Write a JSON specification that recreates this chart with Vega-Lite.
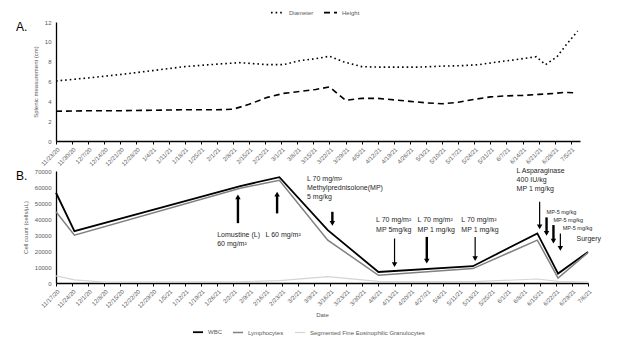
{
  "$schema": "https://vega.github.io/schema/vega-lite/v6.json",
  "padding": {"left": 16, "top": 5, "right": 5, "bottom": 5},
  "spacing": 0,
  "config": {
    "font": "Liberation Sans",
    "view": {"stroke": null},
    "axis": {"grid": false, "labelOverlap": false, "domainColor": "#000000", "domainWidth": 1.3, "tickColor": "#000000", "labelColor": "#595959", "labelFontSize": 6, "titleColor": "#595959", "titleFontSize": 6, "titleFontWeight": "normal"},
    "axisY": {"ticks": false, "labelPadding": 5, "titlePadding": 6},
    "axisX": {"tickSize": 3, "labelAngle": -45, "labelPadding": 2},
    "legend": {"labelFontSize": 6, "labelColor": "#595959", "symbolType": "stroke", "layout": {"bottom": {"anchor": "middle"}}},
    "title": {"fontSize": 12, "fontWeight": "normal", "anchor": "start", "frame": "group", "color": "#000000"}
  },
  "datasets": {
    "spleen": [
      {"date": "2020-11-23", "series": "Diameter", "cm": 6.05},
      {"date": "2020-12-07", "series": "Diameter", "cm": 6.36},
      {"date": "2020-12-21", "series": "Diameter", "cm": 6.7},
      {"date": "2021-01-04", "series": "Diameter", "cm": 7.1},
      {"date": "2021-01-18", "series": "Diameter", "cm": 7.5},
      {"date": "2021-02-01", "series": "Diameter", "cm": 7.75},
      {"date": "2021-02-11", "series": "Diameter", "cm": 7.9},
      {"date": "2021-02-23", "series": "Diameter", "cm": 7.7},
      {"date": "2021-03-02", "series": "Diameter", "cm": 7.7},
      {"date": "2021-03-09", "series": "Diameter", "cm": 8.1},
      {"date": "2021-03-16", "series": "Diameter", "cm": 8.3},
      {"date": "2021-03-22", "series": "Diameter", "cm": 8.55},
      {"date": "2021-03-28", "series": "Diameter", "cm": 8.0},
      {"date": "2021-04-05", "series": "Diameter", "cm": 7.5},
      {"date": "2021-04-12", "series": "Diameter", "cm": 7.45},
      {"date": "2021-04-22", "series": "Diameter", "cm": 7.45},
      {"date": "2021-04-30", "series": "Diameter", "cm": 7.45},
      {"date": "2021-05-10", "series": "Diameter", "cm": 7.55},
      {"date": "2021-05-19", "series": "Diameter", "cm": 7.6},
      {"date": "2021-05-26", "series": "Diameter", "cm": 7.7},
      {"date": "2021-06-04", "series": "Diameter", "cm": 8.0},
      {"date": "2021-06-11", "series": "Diameter", "cm": 8.2},
      {"date": "2021-06-20", "series": "Diameter", "cm": 8.5},
      {"date": "2021-06-24", "series": "Diameter", "cm": 7.7},
      {"date": "2021-06-29", "series": "Diameter", "cm": 8.5},
      {"date": "2021-07-03", "series": "Diameter", "cm": 9.7},
      {"date": "2021-07-08", "series": "Diameter", "cm": 11.1},
      {"date": "2020-11-23", "series": "Height", "cm": 3.0},
      {"date": "2020-12-07", "series": "Height", "cm": 3.05},
      {"date": "2020-12-21", "series": "Height", "cm": 3.05},
      {"date": "2021-01-04", "series": "Height", "cm": 3.1},
      {"date": "2021-01-18", "series": "Height", "cm": 3.15},
      {"date": "2021-02-01", "series": "Height", "cm": 3.15},
      {"date": "2021-02-08", "series": "Height", "cm": 3.2},
      {"date": "2021-02-15", "series": "Height", "cm": 3.7},
      {"date": "2021-02-23", "series": "Height", "cm": 4.4},
      {"date": "2021-03-02", "series": "Height", "cm": 4.8},
      {"date": "2021-03-09", "series": "Height", "cm": 5.0},
      {"date": "2021-03-16", "series": "Height", "cm": 5.2},
      {"date": "2021-03-22", "series": "Height", "cm": 5.45},
      {"date": "2021-03-29", "series": "Height", "cm": 4.1},
      {"date": "2021-04-05", "series": "Height", "cm": 4.3},
      {"date": "2021-04-12", "series": "Height", "cm": 4.3},
      {"date": "2021-04-19", "series": "Height", "cm": 4.15},
      {"date": "2021-04-26", "series": "Height", "cm": 4.0},
      {"date": "2021-05-03", "series": "Height", "cm": 3.85},
      {"date": "2021-05-10", "series": "Height", "cm": 3.75},
      {"date": "2021-05-17", "series": "Height", "cm": 3.9},
      {"date": "2021-05-24", "series": "Height", "cm": 4.2},
      {"date": "2021-05-31", "series": "Height", "cm": 4.45},
      {"date": "2021-06-07", "series": "Height", "cm": 4.55},
      {"date": "2021-06-14", "series": "Height", "cm": 4.6},
      {"date": "2021-06-21", "series": "Height", "cm": 4.7},
      {"date": "2021-06-28", "series": "Height", "cm": 4.8},
      {"date": "2021-07-02", "series": "Height", "cm": 4.9},
      {"date": "2021-07-07", "series": "Height", "cm": 4.85}
    ],
    "cells": [
      {"date": "2020-11-17", "series": "WBC", "count": 56400},
      {"date": "2020-11-25", "series": "WBC", "count": 32400},
      {"date": "2021-02-05", "series": "WBC", "count": 60600},
      {"date": "2021-02-22", "series": "WBC", "count": 66100},
      {"date": "2021-03-15", "series": "WBC", "count": 33000},
      {"date": "2021-04-06", "series": "WBC", "count": 6900},
      {"date": "2021-05-17", "series": "WBC", "count": 10500},
      {"date": "2021-06-14", "series": "WBC", "count": 31000},
      {"date": "2021-06-23", "series": "WBC", "count": 5900},
      {"date": "2021-07-06", "series": "WBC", "count": 19400},
      {"date": "2020-11-17", "series": "Lymphocytes", "count": 44500},
      {"date": "2020-11-25", "series": "Lymphocytes", "count": 29900},
      {"date": "2021-02-05", "series": "Lymphocytes", "count": 59200},
      {"date": "2021-02-22", "series": "Lymphocytes", "count": 64200},
      {"date": "2021-03-15", "series": "Lymphocytes", "count": 26800},
      {"date": "2021-04-06", "series": "Lymphocytes", "count": 4800},
      {"date": "2021-05-17", "series": "Lymphocytes", "count": 9000},
      {"date": "2021-06-14", "series": "Lymphocytes", "count": 26800},
      {"date": "2021-06-23", "series": "Lymphocytes", "count": 3100},
      {"date": "2021-07-06", "series": "Lymphocytes", "count": 19000},
      {"date": "2020-11-17", "series": "Segmented Fine Eosinophilic Granulocytes", "count": 4500},
      {"date": "2020-11-25", "series": "Segmented Fine Eosinophilic Granulocytes", "count": 2000},
      {"date": "2020-12-08", "series": "Segmented Fine Eosinophilic Granulocytes", "count": 600},
      {"date": "2021-02-05", "series": "Segmented Fine Eosinophilic Granulocytes", "count": 800},
      {"date": "2021-02-22", "series": "Segmented Fine Eosinophilic Granulocytes", "count": 1500},
      {"date": "2021-03-15", "series": "Segmented Fine Eosinophilic Granulocytes", "count": 4000},
      {"date": "2021-04-06", "series": "Segmented Fine Eosinophilic Granulocytes", "count": 1000},
      {"date": "2021-05-17", "series": "Segmented Fine Eosinophilic Granulocytes", "count": 800},
      {"date": "2021-06-14", "series": "Segmented Fine Eosinophilic Granulocytes", "count": 2500},
      {"date": "2021-06-23", "series": "Segmented Fine Eosinophilic Granulocytes", "count": 1000},
      {"date": "2021-07-06", "series": "Segmented Fine Eosinophilic Granulocytes", "count": 500}
    ],
    "arrows": [
      {"date": "2021-02-04", "tail": 37400, "count": 53900, "dir": "up", "weight": "thick"},
      {"date": "2021-02-21", "tail": 43500, "count": 55600, "dir": "up", "weight": "thick"},
      {"date": "2021-03-17", "tail": 44500, "count": 37200, "dir": "down", "weight": "thick"},
      {"date": "2021-04-13", "tail": 27800, "count": 11500, "dir": "down", "weight": "thin"},
      {"date": "2021-04-27", "tail": 28800, "count": 13600, "dir": "down", "weight": "thick"},
      {"date": "2021-05-18", "tail": 28800, "count": 15300, "dir": "down", "weight": "thin"},
      {"date": "2021-06-15", "tail": 50800, "count": 35100, "dir": "down", "weight": "thin"},
      {"date": "2021-06-18", "tail": 41000, "count": 31000, "dir": "down", "weight": "thick"},
      {"date": "2021-06-21", "tail": 36200, "count": 26100, "dir": "down", "weight": "thick"},
      {"date": "2021-06-24", "tail": 31000, "count": 21600, "dir": "down", "weight": "thin"}
    ],
    "notes": [
      {"date": "2021-01-26", "count": 30300, "label": "Lomustine (L)", "kind": "main"},
      {"date": "2021-01-26", "count": 24100, "label": "60 mg/m²", "kind": "main"},
      {"date": "2021-02-16", "count": 30300, "label": "L 60 mg/m²", "kind": "main"},
      {"date": "2021-03-06", "count": 65000, "label": "L 70 mg/m²", "kind": "main"},
      {"date": "2021-03-06", "count": 59200, "label": "Methylprednisolone(MP)", "kind": "main"},
      {"date": "2021-03-06", "count": 53900, "label": "5 mg/kg", "kind": "main"},
      {"date": "2021-04-05", "count": 39300, "label": "L 70 mg/m²", "kind": "main"},
      {"date": "2021-04-05", "count": 33200, "label": "MP 5mg/kg", "kind": "main"},
      {"date": "2021-04-23", "count": 39300, "label": "L 70 mg/m²", "kind": "main"},
      {"date": "2021-04-23", "count": 33200, "label": "MP 1 mg/kg", "kind": "main"},
      {"date": "2021-05-12", "count": 39300, "label": "L 70 mg/m²", "kind": "main"},
      {"date": "2021-05-12", "count": 33200, "label": "MP 1 mg/kg", "kind": "main"},
      {"date": "2021-06-05", "count": 70000, "label": "L Asparaginase", "kind": "main"},
      {"date": "2021-06-05", "count": 64400, "label": "400 IU/kg", "kind": "main"},
      {"date": "2021-06-05", "count": 58700, "label": "MP 1 mg/kg", "kind": "main"},
      {"date": "2021-06-18", "count": 44500, "label": "MP-5 mg/kg", "kind": "small"},
      {"date": "2021-06-21", "count": 39300, "label": "MP-5 mg/kg", "kind": "small"},
      {"date": "2021-06-25", "count": 34500, "label": "MP-5 mg/kg", "kind": "small"},
      {"date": "2021-07-01", "count": 27400, "label": "Surgery", "kind": "main"}
    ]
  },
  "vconcat": [
    {
      "width": 524,
      "height": 119,
      "title": {"text": "A.", "dx": -40, "dy": 19},
      "data": {"name": "spleen"},
      "mark": {"type": "line", "color": "#000000", "strokeWidth": 1.6, "strokeCap": "butt"},
      "encoding": {
        "x": {
          "field": "date", "type": "temporal",
          "scale": {"type": "utc", "domain": [{"year": 2020, "month": 11, "date": 23, "utc": true}, {"year": 2021, "month": 7, "date": 9, "utc": true}]},
          "axis": {
            "title": null, "format": "%-m/%-d/%y", "labelOverlap": false,
            "values": [
              {"year": 2020, "month": 11, "date": 23, "utc": true}, {"year": 2020, "month": 11, "date": 30, "utc": true},
              {"year": 2020, "month": 12, "date": 7, "utc": true}, {"year": 2020, "month": 12, "date": 14, "utc": true},
              {"year": 2020, "month": 12, "date": 21, "utc": true}, {"year": 2020, "month": 12, "date": 28, "utc": true},
              {"year": 2021, "month": 1, "date": 4, "utc": true}, {"year": 2021, "month": 1, "date": 11, "utc": true},
              {"year": 2021, "month": 1, "date": 18, "utc": true}, {"year": 2021, "month": 1, "date": 25, "utc": true},
              {"year": 2021, "month": 2, "date": 1, "utc": true}, {"year": 2021, "month": 2, "date": 8, "utc": true},
              {"year": 2021, "month": 2, "date": 15, "utc": true}, {"year": 2021, "month": 2, "date": 22, "utc": true},
              {"year": 2021, "month": 3, "date": 1, "utc": true}, {"year": 2021, "month": 3, "date": 8, "utc": true},
              {"year": 2021, "month": 3, "date": 15, "utc": true}, {"year": 2021, "month": 3, "date": 22, "utc": true},
              {"year": 2021, "month": 3, "date": 29, "utc": true}, {"year": 2021, "month": 4, "date": 5, "utc": true},
              {"year": 2021, "month": 4, "date": 12, "utc": true}, {"year": 2021, "month": 4, "date": 19, "utc": true},
              {"year": 2021, "month": 4, "date": 26, "utc": true}, {"year": 2021, "month": 5, "date": 3, "utc": true},
              {"year": 2021, "month": 5, "date": 10, "utc": true}, {"year": 2021, "month": 5, "date": 17, "utc": true},
              {"year": 2021, "month": 5, "date": 24, "utc": true}, {"year": 2021, "month": 5, "date": 31, "utc": true},
              {"year": 2021, "month": 6, "date": 7, "utc": true}, {"year": 2021, "month": 6, "date": 14, "utc": true},
              {"year": 2021, "month": 6, "date": 21, "utc": true}, {"year": 2021, "month": 6, "date": 28, "utc": true},
              {"year": 2021, "month": 7, "date": 5, "utc": true}
            ]
          }
        },
        "y": {
          "field": "cm", "type": "quantitative",
          "scale": {"domain": [0, 12]},
          "axis": {"values": [0, 2, 4, 6, 8, 10, 12], "title": "Splenic measurement (cm)"}
        },
        "strokeDash": {
          "field": "series", "type": "nominal",
          "scale": {"domain": ["Diameter", "Height"], "range": [[1.6, 3], [6, 4]]},
          "legend": {"title": null, "orient": "none", "legendX": 214, "legendY": -17, "direction": "horizontal", "symbolStrokeColor": "#000000", "symbolStrokeWidth": 1.6, "symbolSize": 169, "columnPadding": 6}
        }
      }
    },
    {
      "width": 532,
      "height": 112,
      "title": {"text": "B.", "dx": -40, "dy": 20},
      "encoding": {
        "x": {
          "field": "date", "type": "temporal",
          "scale": {"type": "utc", "domain": [{"year": 2020, "month": 11, "date": 17, "utc": true}, {"year": 2021, "month": 7, "date": 6, "utc": true}]},
          "axis": {
            "title": "Date", "format": "%-m/%-d/%y", "titlePadding": 3, "labelOverlap": false,
            "values": [
              {"year": 2020, "month": 11, "date": 17, "utc": true}, {"year": 2020, "month": 11, "date": 24, "utc": true},
              {"year": 2020, "month": 12, "date": 1, "utc": true}, {"year": 2020, "month": 12, "date": 8, "utc": true},
              {"year": 2020, "month": 12, "date": 15, "utc": true}, {"year": 2020, "month": 12, "date": 22, "utc": true},
              {"year": 2020, "month": 12, "date": 29, "utc": true}, {"year": 2021, "month": 1, "date": 5, "utc": true},
              {"year": 2021, "month": 1, "date": 12, "utc": true}, {"year": 2021, "month": 1, "date": 19, "utc": true},
              {"year": 2021, "month": 1, "date": 26, "utc": true}, {"year": 2021, "month": 2, "date": 2, "utc": true},
              {"year": 2021, "month": 2, "date": 9, "utc": true}, {"year": 2021, "month": 2, "date": 16, "utc": true},
              {"year": 2021, "month": 2, "date": 23, "utc": true}, {"year": 2021, "month": 3, "date": 2, "utc": true},
              {"year": 2021, "month": 3, "date": 9, "utc": true}, {"year": 2021, "month": 3, "date": 16, "utc": true},
              {"year": 2021, "month": 3, "date": 23, "utc": true}, {"year": 2021, "month": 3, "date": 30, "utc": true},
              {"year": 2021, "month": 4, "date": 6, "utc": true}, {"year": 2021, "month": 4, "date": 13, "utc": true},
              {"year": 2021, "month": 4, "date": 20, "utc": true}, {"year": 2021, "month": 4, "date": 27, "utc": true},
              {"year": 2021, "month": 5, "date": 4, "utc": true}, {"year": 2021, "month": 5, "date": 11, "utc": true},
              {"year": 2021, "month": 5, "date": 18, "utc": true}, {"year": 2021, "month": 5, "date": 25, "utc": true},
              {"year": 2021, "month": 6, "date": 1, "utc": true}, {"year": 2021, "month": 6, "date": 8, "utc": true},
              {"year": 2021, "month": 6, "date": 15, "utc": true}, {"year": 2021, "month": 6, "date": 22, "utc": true},
              {"year": 2021, "month": 6, "date": 29, "utc": true}, {"year": 2021, "month": 7, "date": 6, "utc": true}
            ]
          }
        },
        "y": {
          "field": "count", "type": "quantitative",
          "scale": {"domain": [0, 70000]},
          "axis": {"values": [0, 10000, 20000, 30000, 40000, 50000, 60000, 70000], "format": "d", "title": "Cell count (cells/µL)", "labelOverlap": false}
        }
      },
      "layer": [
        {
          "data": {"name": "cells"},
          "mark": {"type": "line"},
          "encoding": {
            "color": {
              "field": "series", "type": "nominal",
              "scale": {"domain": ["WBC", "Lymphocytes", "Segmented Fine Eosinophilic Granulocytes"], "range": ["#000000", "#808080", "#d4d4d4"]},
              "legend": {"title": null, "orient": "bottom", "direction": "horizontal", "offset": 8, "symbolSize": 100, "symbolStrokeWidth": 1.5, "columnPadding": 8}
            },
            "strokeWidth": {
              "field": "series", "type": "nominal",
              "scale": {"domain": ["WBC", "Lymphocytes", "Segmented Fine Eosinophilic Granulocytes"], "range": [1.8, 1.2, 1]},
              "legend": null
            }
          }
        },
        {
          "data": {"name": "arrows"},
          "transform": [{"filter": "datum.weight === 'thick'"}],
          "mark": {"type": "rule", "color": "#000000", "strokeWidth": 2.4},
          "encoding": {"y2": {"field": "tail"}}
        },
        {
          "data": {"name": "arrows"},
          "transform": [{"filter": "datum.weight === 'thin'"}],
          "mark": {"type": "rule", "color": "#000000", "strokeWidth": 1.2},
          "encoding": {"y2": {"field": "tail"}}
        },
        {
          "data": {"name": "arrows"},
          "transform": [{"filter": "datum.dir === 'up'"}],
          "mark": {"type": "point", "shape": "triangle-up", "filled": true, "color": "#000000", "opacity": 1, "size": 30},
          "encoding": {}
        },
        {
          "data": {"name": "arrows"},
          "transform": [{"filter": "datum.dir === 'down'"}],
          "mark": {"type": "point", "shape": "triangle-down", "filled": true, "color": "#000000", "opacity": 1, "size": 30},
          "encoding": {}
        },
        {
          "data": {"name": "notes"},
          "transform": [{"filter": "datum.kind === 'main'"}],
          "mark": {"type": "text", "align": "left", "baseline": "middle", "fontSize": 7, "color": "#262626"},
          "encoding": {"text": {"field": "label"}}
        },
        {
          "data": {"name": "notes"},
          "transform": [{"filter": "datum.kind === 'small'"}],
          "mark": {"type": "text", "align": "left", "baseline": "middle", "fontSize": 5.5, "color": "#262626"},
          "encoding": {"text": {"field": "label"}}
        }
      ]
    }
  ]
}
